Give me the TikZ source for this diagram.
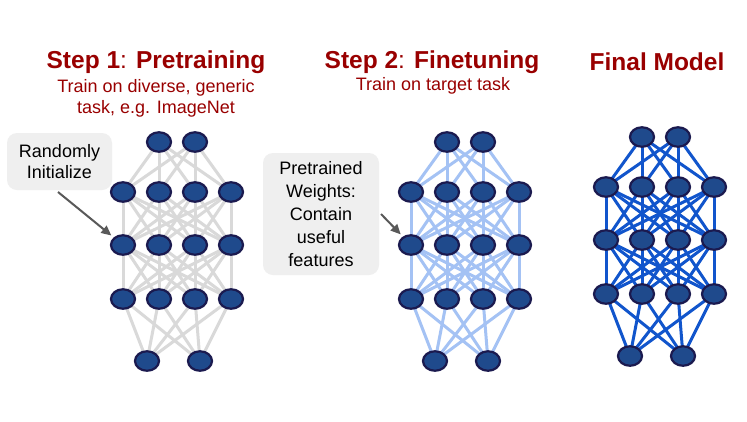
\documentclass[tikz,border=0pt]{standalone}
\usepackage{fontspec}
\setmainfont{Liberation Sans}
\usetikzlibrary{arrows.meta,backgrounds,shapes.geometric}
\definecolor{darkred}{HTML}{990000}
\definecolor{nodefill}{HTML}{1F4A8C}
\definecolor{nodeline}{HTML}{1B1A4F}
\definecolor{edgegray}{HTML}{D9D9D9}
\definecolor{edgelight}{HTML}{A4C2F4}
\definecolor{edgeblue}{HTML}{1155CC}
\definecolor{boxgray}{HTML}{EFEFEF}
\definecolor{arrowgray}{HTML}{595959}
\begin{document}
\begin{tikzpicture}[x=1pt,y=-1pt,
    neuron/.style={ellipse,minimum width=24pt,minimum height=19.5pt,inner sep=0pt,
        fill=nodefill,draw=nodeline,line width=2.2pt},
    edge/.style={line width=3pt},
    title/.style={text=darkred,font=\fontsize{24.5}{28}\selectfont},
    sub/.style={text=darkred,align=center,font=\fontsize{18}{21}\selectfont},
    callout/.style={fill=boxgray,rounded corners=10pt,align=center,inner sep=0pt},
    pointer/.style={draw=arrowgray,line width=2pt,-{Triangle[length=10pt,width=9pt]},shorten >=3pt}]
    \useasboundingbox (0,0) rectangle (747,421);
    % titles
    \node[title] (t1) at (156,62) {\textbf{Step 1}:\textbf{ Pretraining}};
    \node[sub] (s1) at (156,98) {Train on diverse, generic\\task, e.g. ImageNet};
    \node[title] (t2) at (432,62) {\textbf{Step 2}:\textbf{ Finetuning}};
    \node[sub] (s2) at (433,86) {Train on target task};
    \node[title] (t3) at (657,62) {\textbf{Final Model}};
    % three networks
    \foreach \net/\c/\t in {a/177/0,b/465/0,c/660/-5} {
        \foreach \i in {1,2} \node[neuron] (\net1-\i) at (\c-54+36*\i,142+\t) {};
        \foreach \r/\y in {2/192,3/245,4/299}
            \foreach \i in {1,...,4} \node[neuron] (\net\r-\i) at (\c-90+36*\i,\y+\t) {};
        \foreach \i in {1,2} \node[neuron] (\net5-\i) at (\c-83+53*\i,361+\t) {};
    }
    \begin{scope}[on background layer]
        \fill[white] (0,0) rectangle (747,421);
        \foreach \net/\col in {a/edgegray,b/edgelight,c/edgeblue} {
            \foreach \i in {1,2} \foreach \j in {1,...,4}
                \draw[edge,\col] (\net1-\i.center) -- (\net2-\j.center);
            \foreach \r [evaluate=\r as \s using int(\r+1)] in {2,3}
                \foreach \i in {1,...,4} \foreach \j in {1,...,4}
                    \draw[edge,\col] (\net\r-\i.center) -- (\net\s-\j.center);
            \foreach \i in {1,...,4} \foreach \j in {1,2}
                \draw[edge,\col] (\net4-\i.center) -- (\net5-\j.center);
        }
    \end{scope}
    % callouts
    \node[callout,minimum width=105pt,minimum height=57pt,font=\fontsize{18}{21}\selectfont]
        (rand) at (59.5,161.5) {Randomly\\Initialize};
    \node[callout,minimum width=116pt,minimum height=122pt,font=\fontsize{18}{23}\selectfont]
        (pre) at (321,214) {Pretrained\\Weights:\\Contain\\useful\\features};
    \coordinate (rand-tail) at (58,192);
    \coordinate (pre-tail) at (381,214);
    \draw[pointer] (rand-tail) -- (a3-1);
    \draw[pointer] (pre-tail) -- (b3-1);
\end{tikzpicture}
\end{document}
